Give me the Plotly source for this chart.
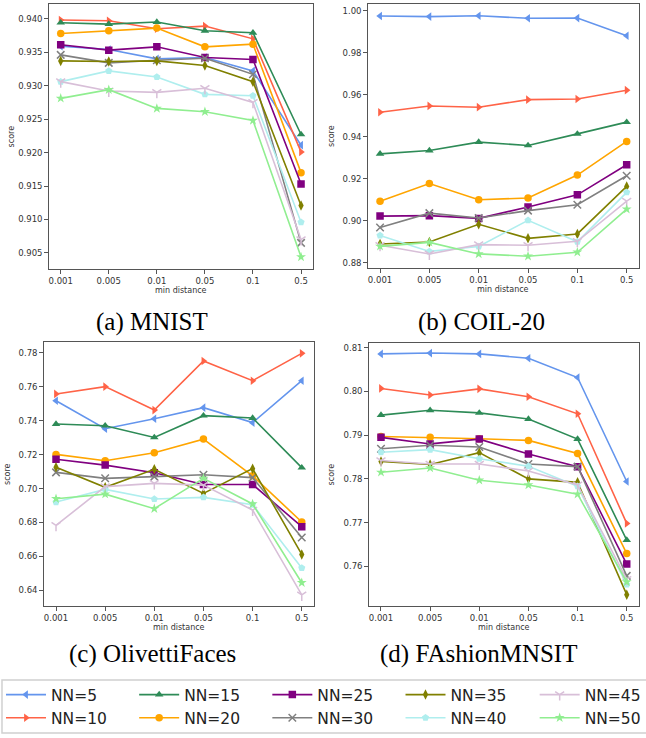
import plotly.graph_objects as go

# ---------------- data ----------------
min_distance = ["0.001", "0.005", "0.01", "0.05", "0.1", "0.5"]
nn_labels = ["NN=5", "NN=10", "NN=15", "NN=20", "NN=25",
             "NN=30", "NN=35", "NN=40", "NN=45", "NN=50"]

# one row per NN setting, one value per min distance
mnist_scores = [
    [0.9359, 0.9354, 0.9340, 0.9342, 0.9322, 0.9211],
    [0.9398, 0.9397, 0.9385, 0.9389, 0.9370, 0.9201],
    [0.9394, 0.9392, 0.9395, 0.9382, 0.9379, 0.9227],
    [0.9378, 0.9382, 0.9386, 0.9358, 0.9362, 0.9170],
    [0.9361, 0.9353, 0.9358, 0.9342, 0.9339, 0.9153],
    [0.9346, 0.9334, 0.9338, 0.9341, 0.9317, 0.9065],
    [0.9337, 0.9336, 0.9337, 0.9330, 0.9306, 0.9121],
    [0.9306, 0.9322, 0.9313, 0.9287, 0.9285, 0.9096],
    [0.9306, 0.9292, 0.9290, 0.9296, 0.9275, 0.9070],
    [0.9281, 0.9294, 0.9266, 0.9261, 0.9248, 0.9044],
]
coil20_scores = [
    [0.9975, 0.9972, 0.9976, 0.9964, 0.9965, 0.9881],
    [0.9517, 0.9547, 0.9541, 0.9577, 0.9580, 0.9622],
    [0.9319, 0.9335, 0.9375, 0.9359, 0.9414, 0.9470],
    [0.9093, 0.9178, 0.9101, 0.9109, 0.9218, 0.9378],
    [0.9023, 0.9025, 0.9012, 0.9066, 0.9124, 0.9267],
    [0.8969, 0.9037, 0.9014, 0.9049, 0.9077, 0.9215],
    [0.8890, 0.8900, 0.8984, 0.8917, 0.8938, 0.9164],
    [0.8931, 0.8855, 0.8878, 0.9003, 0.8901, 0.9136],
    [0.8884, 0.8843, 0.8887, 0.8884, 0.8903, 0.9094],
    [0.8879, 0.8898, 0.8843, 0.8832, 0.8851, 0.9056],
]
olivetti_scores = [
    [0.7517, 0.7352, 0.7411, 0.7476, 0.7388, 0.7635],
    [0.7557, 0.7600, 0.7462, 0.7751, 0.7635, 0.7796],
    [0.7380, 0.7370, 0.7301, 0.7429, 0.7415, 0.7123],
    [0.7201, 0.7164, 0.7211, 0.7291, 0.7075, 0.6803],
    [0.7172, 0.7138, 0.7093, 0.7024, 0.7024, 0.6775],
    [0.7095, 0.7060, 0.7070, 0.7081, 0.7064, 0.6712],
    [0.7125, 0.7007, 0.7113, 0.6971, 0.7117, 0.6612],
    [0.6920, 0.6995, 0.6938, 0.6948, 0.6905, 0.6532],
    [0.6783, 0.7011, 0.7030, 0.7020, 0.6873, 0.6373],
    [0.6940, 0.6967, 0.6881, 0.7060, 0.6909, 0.6445],
]
fashion_scores = [
    [0.8086, 0.8088, 0.8086, 0.8076, 0.8032, 0.7794],
    [0.8007, 0.7992, 0.8006, 0.7988, 0.7949, 0.7698],
    [0.7946, 0.7957, 0.7951, 0.7937, 0.7891, 0.7660],
    [0.7897, 0.7895, 0.7892, 0.7888, 0.7858, 0.7629],
    [0.7895, 0.7880, 0.7891, 0.7857, 0.7828, 0.7605],
    [0.7869, 0.7877, 0.7873, 0.7834, 0.7828, 0.7578],
    [0.7840, 0.7833, 0.7860, 0.7800, 0.7792, 0.7535],
    [0.7861, 0.7867, 0.7846, 0.7829, 0.7783, 0.7558],
    [0.7842, 0.7834, 0.7834, 0.7818, 0.7786, 0.7570],
    [0.7815, 0.7825, 0.7797, 0.7786, 0.7765, 0.7564],
]
captions = ["(a) MNIST", "(b) COIL-20", "(c) OlivettiFaces", "(d) FAshionMNSIT"]

# ---------------- styles ----------------
colors = ["#6495ED", "#FF6347", "#2E8B57", "#FFA500", "#800080",
          "#808080", "#808000", "#AFEEEE", "#D8BFD8", "#90EE90"]
symbols = ["triangle-left", "triangle-right", "triangle-up", "circle", "square",
           "x-thin-open", "diamond-tall", "pentagon", "y-down-open", "star"]

W, H = 646, 738
def fx(px):
    return px / W
def fy(py):
    return 1 - py / H

panels = [
    # data, x px domain, y px (top, bottom), y range, dtick, fmt, caption pos
    (mnist_scores, (49, 315), (4, 269), (0.9026, 0.9422), 0.005, ".3f", (153, 322)),
    (coil20_scores, (370, 643), (4, 268), (0.8776, 1.0032), 0.02, ".2f", (485, 322)),
    (olivetti_scores, (44, 316), (342, 606), (0.6308, 0.7863), 0.02, ".2f", (153, 654)),
    (fashion_scores, (371, 643), (343, 606), (0.7509, 0.8111), 0.01, ".2f", (481, 654)),
]

fig = go.Figure()
annotations = []
tick_font = dict(family="DejaVu Sans", size=8.5, color="#333")
axis_common = dict(showline=True, mirror=True, linecolor="#555", linewidth=1,
                   ticks="outside", ticklen=3.5, tickcolor="#555", tickwidth=1,
                   showgrid=False, zeroline=False, tickfont=tick_font)

legend_cols_x = [1, 135, 269, 403, 538]

for p, (scores, (x0, x1), (yt, yb), yr, dt, fmt, cap) in enumerate(panels):
    sfx = "" if p == 0 else str(p + 1)
    for i, name in enumerate(nn_labels):
        col = i // 2
        sym = symbols[i]
        open_sym = sym.endswith("-open")
        fig.add_trace(go.Scatter(
            x=min_distance, y=scores[i], name=name, mode="lines+markers",
            xaxis="x" + sfx, yaxis="y" + sfx,
            line=dict(color=colors[i], width=1.6),
            marker=dict(symbol=sym, size=7.5, color=colors[i],
                        line=dict(width=1.5 if open_sym else 0, color=colors[i])),
            showlegend=(p == 0),
            legend="legend" if col == 0 else "legend" + str(col + 1),
        ))
    fig.layout["xaxis" + sfx] = dict(
        axis_common, domain=[fx(x0), fx(x1)], type="category",
        range=[-0.25, 5.25], anchor="y" + sfx)
    fig.layout["yaxis" + sfx] = dict(
        axis_common, domain=[fy(yb), fy(yt)], range=list(yr),
        tick0=0, dtick=dt, tickformat=fmt, anchor="x" + sfx)
    # axis titles
    annotations.append(dict(text="min distance", x=fx((x0 + x1) / 2), y=fy(yb + 21),
                            xref="paper", yref="paper", showarrow=False,
                            xanchor="center", yanchor="middle",
                            font=dict(family="DejaVu Sans", size=8, color="#333")))
    annotations.append(dict(text="score", x=fx(x0 - 37), y=fy((yt + yb) / 2),
                            xref="paper", yref="paper", showarrow=False, textangle=-90,
                            xanchor="center", yanchor="middle",
                            font=dict(family="DejaVu Sans", size=8, color="#333")))
    annotations.append(dict(text=captions[p], x=fx(cap[0]), y=fy(cap[1]),
                            xref="paper", yref="paper", showarrow=False,
                            xanchor="center", yanchor="middle",
                            font=dict(family="Liberation Serif", size=25, color="#000")))

legend_style = dict(orientation="v", xanchor="left", yanchor="top",
                    bgcolor="rgba(0,0,0,0)", borderwidth=0, itemwidth=40,
                    tracegroupgap=0,
                    font=dict(family="DejaVu Sans", size=15.5, color="#222"))
for c in range(5):
    key = "legend" if c == 0 else "legend" + str(c + 1)
    fig.layout[key] = dict(legend_style, x=fx(legend_cols_x[c]), y=fy(678))

fig.update_layout(
    width=W, height=H, margin=dict(l=0, r=0, t=0, b=0),
    paper_bgcolor="white", plot_bgcolor="white",
    annotations=annotations,
    shapes=[dict(type="rect", xref="paper", yref="paper",
                 x0=fx(2), x1=fx(652), y0=fy(733), y1=fy(680),
                 line=dict(color="#d0d0d0", width=1.5))],
)

fig.write_html(
    "out.html",
    config={"displayModeBar": False},
    post_script="document.body.style.margin='0';document.body.style.overflow='hidden';",
)
